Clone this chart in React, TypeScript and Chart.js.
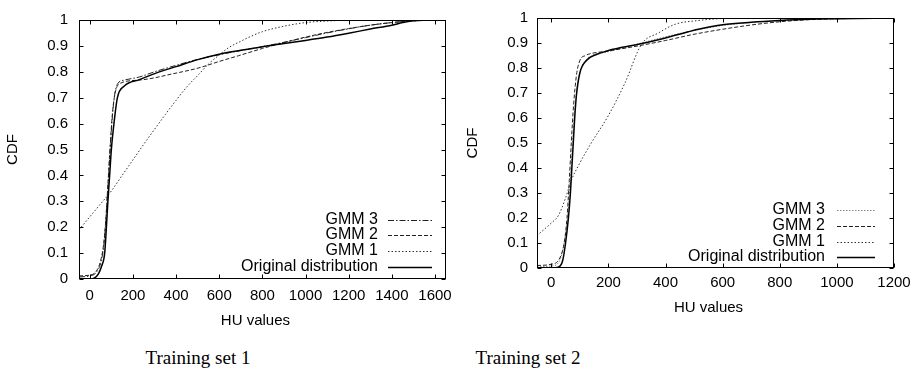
import React, { useEffect, useRef } from "react";
import { Chart, registerables } from "chart.js";
Chart.register(...registerables);

// ---------- Training set 1 ----------
const s1OrigX = [-50, 0, 20, 40, 55, 69, 77, 84, 92, 100, 112, 128, 160, 230, 307, 400, 505, 600, 700, 800, 900, 1000, 1100, 1200, 1300, 1400, 1450, 1500, 1650];
const s1OrigY = [0, 0, 0.003, 0.02, 0.05, 0.1, 0.2, 0.3, 0.4, 0.5, 0.6, 0.7, 0.745, 0.77, 0.795, 0.82, 0.848, 0.868, 0.883, 0.897, 0.909, 0.921, 0.934, 0.949, 0.965, 0.98, 0.99, 0.997, 1];
const s1Gmm1X = [-50, 0, 50, 100, 150, 200, 250, 300, 350, 400, 450, 505, 550, 600, 643, 700, 750, 800, 900, 1000, 1100, 1200, 1650];
const s1Gmm1Y = [0.19, 0.24, 0.29, 0.34, 0.4, 0.46, 0.52, 0.578, 0.635, 0.69, 0.742, 0.79, 0.83, 0.865, 0.893, 0.918, 0.938, 0.955, 0.976, 0.99, 0.996, 0.999, 1];
const s1Gmm2X = [-50, 0, 30, 50, 65, 75, 85, 95, 105, 118, 140, 230, 400, 505, 600, 689, 800, 900, 1000, 1100, 1200, 1300, 1400, 1500, 1650];
const s1Gmm2Y = [0.012, 0.015, 0.03, 0.07, 0.14, 0.24, 0.38, 0.52, 0.64, 0.72, 0.755, 0.768, 0.795, 0.815, 0.84, 0.862, 0.89, 0.913, 0.934, 0.952, 0.967, 0.98, 0.99, 0.997, 1];
const s1Gmm3X = [-50, 0, 30, 50, 65, 75, 85, 95, 105, 115, 130, 160, 230, 300, 400, 500, 600, 700, 800, 900, 1000, 1100, 1200, 1300, 1400, 1500, 1650];
const s1Gmm3Y = [0.008, 0.012, 0.025, 0.06, 0.13, 0.23, 0.37, 0.51, 0.63, 0.71, 0.755, 0.768, 0.78, 0.8, 0.825, 0.848, 0.866, 0.882, 0.897, 0.914, 0.932, 0.95, 0.966, 0.98, 0.99, 0.997, 1];

// ---------- Training set 2 ----------
const s2OrigX = [-50, 0, 24, 40, 50, 60, 67, 72, 77, 82, 88, 100, 123, 160, 200, 305, 400, 480, 515, 600, 700, 800, 900, 1000, 1200];
const s2OrigY = [0, 0, 0.003, 0.03, 0.1, 0.2, 0.3, 0.4, 0.5, 0.6, 0.69, 0.78, 0.83, 0.855, 0.87, 0.895, 0.92, 0.945, 0.955, 0.973, 0.983, 0.99, 0.995, 0.997, 1];
const s2Gmm1X = [-50, 0, 25, 50, 70, 100, 140, 200, 258, 316, 375, 434, 515, 600, 700, 1200];
const s2Gmm1Y = [0.13, 0.18, 0.21, 0.28, 0.35, 0.42, 0.5, 0.61, 0.74, 0.895, 0.94, 0.975, 0.99, 0.998, 1, 1];
const s2Gmm2X = [-50, 0, 30, 45, 55, 63, 70, 78, 88, 100, 120, 136, 200, 311, 400, 500, 600, 700, 800, 900, 1000, 1200];
const s2Gmm2Y = [0.01, 0.015, 0.04, 0.1, 0.2, 0.35, 0.5, 0.65, 0.77, 0.83, 0.85, 0.857, 0.868, 0.89, 0.91, 0.935, 0.955, 0.972, 0.985, 0.993, 0.997, 1];
const s2Gmm3X = [-50, 0, 30, 45, 57, 65, 72, 80, 90, 105, 130, 200, 300, 400, 500, 600, 700, 800, 1000, 1200];
const s2Gmm3Y = [0.005, 0.008, 0.03, 0.1, 0.2, 0.32, 0.45, 0.6, 0.72, 0.8, 0.84, 0.865, 0.895, 0.925, 0.95, 0.97, 0.982, 0.99, 0.997, 1];

// ---------- Axes ----------
const s1XTicks = [0, 200, 400, 600, 800, 1000, 1200, 1400, 1600];
const s2XTicks = [0, 200, 400, 600, 800, 1000, 1200];
const yTicks = [0, 0.1, 0.2, 0.3, 0.4, 0.5, 0.6, 0.7, 0.8, 0.9, 1];
const legendNames = ["GMM 3", "GMM 2", "GMM 1", "Original distribution"];
const captions = ["Training set 1", "Training set 2"];

const SANS = "'Liberation Sans', Arial, sans-serif";

function pts(xs: number[], ys: number[]) {
  return xs.map((x, i) => ({ x, y: ys[i] }));
}

const framePlugin = {
  id: "frame",
  afterDraw(chart: any, _args: any, opts: any) {
    const { ctx, chartArea: a, scales } = chart;
    ctx.save();
    ctx.strokeStyle = "#000";
    ctx.lineWidth = 1;
    const L = Math.round(a.left) + 0.5, R = Math.round(a.right) - 0.5;
    const T = Math.round(a.top) + 0.5, B = Math.round(a.bottom) - 0.5;
    ctx.strokeRect(L, T, R - L, B - T);
    const tl = 4;
    ctx.beginPath();
    (opts.xTicks || []).forEach((v: number) => {
      const p = Math.round(scales.x.getPixelForValue(v)) + 0.5;
      ctx.moveTo(p, B); ctx.lineTo(p, B - tl);
      ctx.moveTo(p, T); ctx.lineTo(p, T + tl);
    });
    (opts.yTicks || []).forEach((v: number) => {
      const p = Math.round(scales.y.getPixelForValue(v)) + 0.5;
      ctx.moveTo(L, p); ctx.lineTo(L + tl, p);
      ctx.moveTo(R, p); ctx.lineTo(R - tl, p);
    });
    ctx.stroke();

    // axis titles
    ctx.fillStyle = "#000";
    ctx.font = `15px ${SANS}`;
    ctx.textAlign = "center";
    ctx.textBaseline = "middle";
    ctx.fillText(opts.xTitle, (a.left + a.right) / 2 + opts.xTitleDx, opts.xTitleY);
    ctx.save();
    ctx.translate(opts.yTitleX, (a.top + a.bottom) / 2);
    ctx.rotate(-Math.PI / 2);
    ctx.fillText(opts.yTitle, 0, 0);
    ctx.restore();

    // legend (gnuplot style)
    const lg = opts.legend;
    ctx.font = `16px ${SANS}`;
    ctx.textAlign = "right";
    lg.names.forEach((name: string, i: number) => {
      const y = lg.rows[i];
      ctx.fillStyle = "#000";
      ctx.fillText(name, lg.textRight, y);
      const ds = chart.data.datasets.find((d: any) => d.label === name);
      if (ds) {
        ctx.save();
        ctx.strokeStyle = ds.borderColor;
        ctx.lineWidth = ds.borderWidth;
        ctx.setLineDash(ds.borderDash || []);
        ctx.beginPath();
        ctx.moveTo(lg.s0, Math.round(y) + 0.5);
        ctx.lineTo(lg.s1, Math.round(y) + 0.5);
        ctx.stroke();
        ctx.restore();
      }
    });
    ctx.restore();
  },
};

function makeConfig(set: 1 | 2): any {
  const isOne = set === 1;
  const styles = isOne
    ? [
        { label: "Original distribution", c: "#000", w: 1.5, d: [] as number[] },
        { label: "GMM 1", c: "#333", w: 1, d: [1.5, 2] },
        { label: "GMM 2", c: "#222", w: 1, d: [4, 2] },
        { label: "GMM 3", c: "#222", w: 1, d: [6, 2, 1.5, 2] },
      ]
    : [
        { label: "Original distribution", c: "#000", w: 1.5, d: [] as number[] },
        { label: "GMM 1", c: "#333", w: 1, d: [1.5, 2] },
        { label: "GMM 2", c: "#222", w: 1, d: [4, 2] },
        { label: "GMM 3", c: "#888", w: 1, d: [1.5, 1.5] },
      ];
  const series = isOne
    ? [pts(s1OrigX, s1OrigY), pts(s1Gmm1X, s1Gmm1Y), pts(s1Gmm2X, s1Gmm2Y), pts(s1Gmm3X, s1Gmm3Y)]
    : [pts(s2OrigX, s2OrigY), pts(s2Gmm1X, s2Gmm1Y), pts(s2Gmm2X, s2Gmm2Y), pts(s2Gmm3X, s2Gmm3Y)];
  const xTicks = isOne ? s1XTicks : s2XTicks;
  const yWidth = isOne ? 79 : 77;
  const xHeight = isOne ? 51 : 62;
  return {
    type: "line",
    data: {
      datasets: styles.map((s, i) => ({
        label: s.label,
        data: series[i],
        borderColor: s.c,
        borderWidth: s.w,
        borderDash: s.d,
        pointRadius: 0,
        fill: false,
        cubicInterpolationMode: "monotone",
      })),
    },
    options: {
      animation: false,
      responsive: false,
      maintainAspectRatio: false,
      layout: { padding: { left: 0, top: 10, right: isOne ? 11 : 27, bottom: 0 } },
      plugins: {
        legend: { display: false },
        tooltip: { enabled: false },
        frame: {
          xTicks,
          yTicks,
          xTitle: "HU values",
          xTitleDx: -7,
          xTitleY: isOne ? 321 : 308,
          yTitle: "CDF",
          yTitleX: 13,
          legend: isOne
            ? { names: legendNames, rows: [219.5, 235, 251, 267], textRight: 378, s0: 388, s1: 432 }
            : { names: legendNames, rows: [210, 226, 242, 257], textRight: 365, s0: 377, s1: 415 },
        },
      },
      scales: {
        x: {
          type: "linear",
          min: -50,
          max: isOne ? 1650 : 1200,
          afterBuildTicks: (sc: any) => { sc.ticks = xTicks.map((v) => ({ value: v })); },
          afterFit: (sc: any) => { sc.height = xHeight; },
          grid: { display: false, drawTicks: false },
          border: { display: false },
          ticks: {
            autoSkip: false,
            maxRotation: 0,
            padding: isOne ? 8 : 6,
            color: "#000",
            font: { family: SANS, size: 15 },
            callback: (v: any) => String(v),
          },
        },
        y: {
          type: "linear",
          min: 0,
          max: 1,
          afterBuildTicks: (sc: any) => { sc.ticks = yTicks.map((v) => ({ value: v })); },
          afterFit: (sc: any) => { sc.width = yWidth; },
          grid: { display: false, drawTicks: false },
          border: { display: false },
          ticks: {
            autoSkip: false,
            padding: isOne ? 11 : 9,
            color: "#000",
            font: { family: SANS, size: 15 },
            callback: (v: any) => String(Math.round(v * 10) / 10),
          },
        },
      },
    },
    plugins: [framePlugin],
  };
}

function ChartBox({ set, left, width }: { set: 1 | 2; left: number; width: number }) {
  const ref = useRef<HTMLCanvasElement>(null);
  useEffect(() => {
    if (!ref.current) return;
    const chart = new Chart(ref.current, makeConfig(set));
    return () => chart.destroy();
  }, [set]);
  return (
    <canvas
      ref={ref}
      width={width}
      height={330}
      style={{ position: "absolute", left, top: 0, width, height: 330 }}
    />
  );
}

export default function App() {
  const capStyle = (cx: number): React.CSSProperties => ({
    position: "absolute",
    left: cx - 100,
    width: 200,
    top: 347,
    textAlign: "center",
    fontFamily: "'Liberation Serif', 'Times New Roman', serif",
    fontSize: 19,
    lineHeight: "22px",
    color: "#000",
  });
  return (
    <div style={{ position: "absolute", left: 0, top: 0, width: 921, height: 381, background: "#fff", overflow: "hidden" }}>
      <ChartBox set={1} left={0} width={460} />
      <ChartBox set={2} left={460} width={461} />
      <div style={capStyle(198)}>{captions[0]}</div>
      <div style={capStyle(528)}>{captions[1]}</div>
    </div>
  );
}
